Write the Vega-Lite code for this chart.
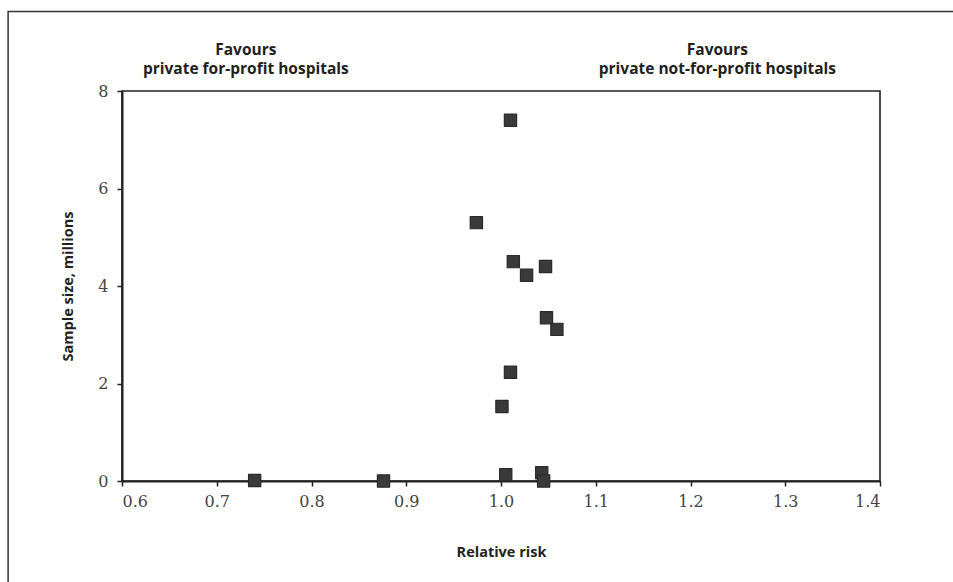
{
  "$schema": "https://vega.github.io/schema/vega-lite/v6.json",
  "autosize": {"type": "none"},
  "width": 758,
  "height": 390,
  "padding": {"left": 122, "top": 91, "right": 73, "bottom": 101},
  "background": "white",
  "config": {
    "view": {"stroke": "#231f20", "strokeWidth": 1.6},
    "axis": {
      "domainColor": "#231f20", "domainWidth": 2, "tickColor": "#231f20", "tickWidth": 1.5, "tickSize": 5,
      "labelFont": "DejaVu Serif", "labelFontSize": 16, "labelColor": "#444444",
      "titleFont": "Open Sans", "titleFontSize": 14.5, "titleFontWeight": "bold", "titleColor": "#231f20",
      "grid": false
    }
  },
  "datasets": {
    "studies": [
      {"rr": 1.010, "n": 7.40},
      {"rr": 0.974, "n": 5.30},
      {"rr": 1.013, "n": 4.50},
      {"rr": 1.047, "n": 4.40},
      {"rr": 1.027, "n": 4.22},
      {"rr": 1.048, "n": 3.35},
      {"rr": 1.059, "n": 3.11},
      {"rr": 1.010, "n": 2.23},
      {"rr": 1.001, "n": 1.53},
      {"rr": 1.005, "n": 0.13},
      {"rr": 1.043, "n": 0.17},
      {"rr": 1.045, "n": 0.0},
      {"rr": 0.740, "n": 0.01},
      {"rr": 0.876, "n": 0.0}
    ],
    "notes": [
      {"rr": 0.7307, "n": 8.84, "label": ["Favours", "private for-profit hospitals"]},
      {"rr": 1.2284, "n": 8.84, "label": ["Favours", "private not-for-profit hospitals"]}
    ],
    "frame": [
      {"x1": 0.4798, "x2": 1.52, "y1": 9.63, "y2": -3}
    ]
  },
  "layer": [
    {
      "data": {"name": "frame"},
      "mark": {"type": "rect", "fill": null, "stroke": "#333333", "strokeWidth": 1.5, "clip": false},
      "encoding": {
        "x": {"field": "x1", "type": "quantitative"},
        "x2": {"field": "x2"},
        "y": {"field": "y1", "type": "quantitative"},
        "y2": {"field": "y2"}
      }
    },
    {
      "data": {"name": "studies"},
      "mark": {"type": "point", "shape": "square", "filled": true, "size": 150, "color": "#3a3a3a", "opacity": 1, "stroke": "#2a2a2a", "strokeWidth": 1.2, "strokeJoin": "round", "clip": false},
      "encoding": {
        "x": {"field": "rr", "type": "quantitative", "scale": {"domain": [0.6, 1.4], "nice": false, "zero": false},
          "axis": {"title": "Relative risk", "values": [0.6, 0.7, 0.8, 0.9, 1.0, 1.1, 1.2, 1.3, 1.4], "format": ".1f", "labelPadding": 7, "titlePadding": 36}},
        "y": {"field": "n", "type": "quantitative", "scale": {"domain": [0, 8], "nice": false},
          "axis": {"title": "Sample size, millions", "values": [0, 2, 4, 6, 8], "format": "d", "labelPadding": 9, "titlePadding": 22}}
      }
    },
    {
      "data": {"name": "notes"},
      "mark": {"type": "text", "font": "Open Sans", "fontSize": 15.5, "fontWeight": "bold", "color": "#231f20", "align": "center", "baseline": "middle", "lineHeight": 18.5, "clip": false},
      "encoding": {
        "x": {"field": "rr", "type": "quantitative"},
        "y": {"field": "n", "type": "quantitative"},
        "text": {"field": "label"}
      }
    }
  ]
}
